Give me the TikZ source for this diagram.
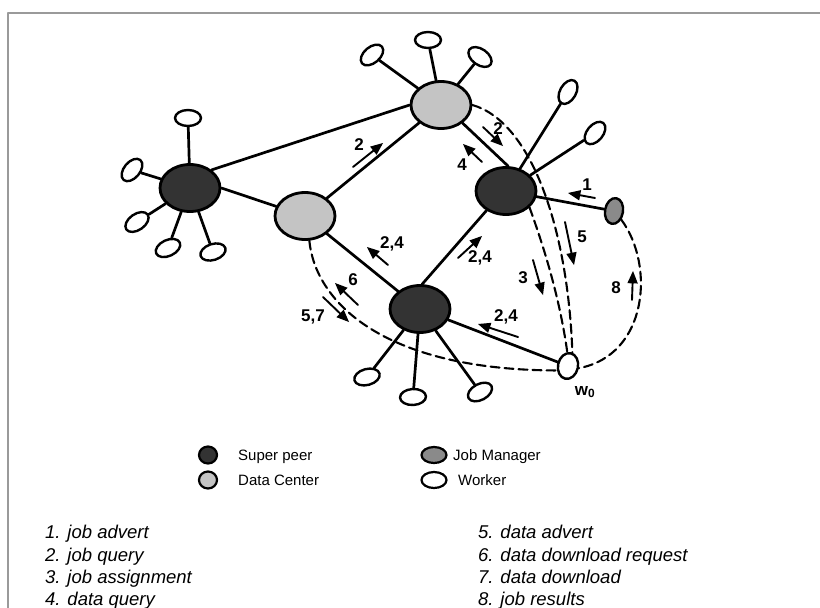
\documentclass[tikz,border=0pt]{standalone}
\usepackage{fontspec}
\setmainfont{Liberation Sans}
\usetikzlibrary{arrows,shapes.geometric}
\definecolor{spfill}{HTML}{333333}
\definecolor{dcfill}{HTML}{C4C4C4}
\definecolor{jmfill}{HTML}{8A8A8A}
\definecolor{framegray}{HTML}{9A9A9A}
\tikzset{
  hub/.style={ellipse,draw,line width=2.8pt,minimum width=60pt,minimum height=47pt,inner sep=0pt},
  superpeer/.style={hub,fill=spfill},
  datacenter/.style={hub,fill=dcfill},
  worker/.style={ellipse,draw,line width=2.4pt,fill=white,minimum width=26pt,minimum height=16pt,inner sep=0pt},
  jobmgr/.style={ellipse,draw,line width=2.4pt,fill=jmfill,minimum width=18pt,minimum height=26pt,inner sep=0pt},
  link/.style={line width=2.7pt},
  dlink/.style={line width=2.1pt,dash pattern=on 9pt off 5pt},
  msg/.style={->,line width=1.9pt},
  lbl/.style={font=\fontsize{17}{17}\selectfont\bfseries,inner sep=0pt},
  key/.style={ellipse,draw,line width=2.2pt,minimum width=18pt,minimum height=17pt,inner sep=0pt},
  keytext/.style={anchor=base west,font=\fontsize{15}{15}\selectfont,inner sep=0pt},
  item/.style={anchor=base west,font=\fontsize{18.5}{18.5}\selectfont\itshape,inner sep=0pt}
}
\begin{document}
\begin{tikzpicture}[line cap=round,line join=round,>=triangle 45,x=1pt,y=-1pt]
\useasboundingbox (0,0) rectangle (820,608);
\begin{scope}
\clip (0,0) rectangle (820,608);
\draw[framegray,line width=1.8pt] (8,640) -- (8,13) -- (840,13);
\end{scope}
% peers and data centers
\node[superpeer] (sp1) at (190,188) {};
\node[superpeer] (sp2) at (506,191) {};
\node[superpeer] (sp3) at (420,309) {};
\node[datacenter] (dc1) at (305,216) {};
\node[datacenter] (dc2) at (441,105) {};
\node[jobmgr,rotate=-10] (jm) at (614,211) {};
\node[worker,minimum width=20pt,minimum height=26pt,rotate=-12] (w0) at (568,366) {};
\node[lbl] (w0lbl) at (585,392) {w\textsubscript{0}};
% workers
\foreach \n/\x/\y/\r/\h in {a1/188/118/0/sp1, a2/132/170/50/sp1, a3/137/222/35/sp1,
    a4/168/248/25/sp1, a5/213/252/18/sp1, b1/372/55/40/dc2, b2/428/40/0/dc2,
    b3/480/57/-35/dc2, c1/568/92/60/sp2, c2/595/133/50/sp2, d1/367/377/15/sp3,
    d2/413/397/3/sp3, d3/480/392/28/sp3}
  {\node[worker,rotate=\r] (\n) at (\x,\y) {};
   \draw[link] (\h) -- (\n);}
% overlay links
\draw[link] (sp1.40) -- (dc2.180);
\draw[link] (sp1.east) -- (dc1);
\draw[link] (dc1) -- (dc2);
\draw[link] (dc2.-40) -- (sp2.85);
\draw[link] (dc1) -- (sp3);
\draw[link] (sp3.85) -- (sp2.-135);
\draw[link] (sp2) -- (jm);
\draw[link] (sp3) -- (w0);
% dashed message paths
\draw[dlink] (dc2.east) .. controls (532,122) and (568,230) .. (w0.84);
\draw[dlink] (sp2.-35) .. controls (545,250) and (560,300) .. (w0.105);
\draw[dlink] (jm.-40) .. controls (655,265) and (648,355) .. (w0.1);
\draw[dlink] (dc1.-80) .. controls (315,300) and (380,370) .. (w0.214);
% messages
\foreach \xa/\ya/\xb/\yb in {595/198/568/193, 353/167/383/143, 388/265/367/247,
    483/127/503/146, 482/162/463/144, 565/222/574/265, 533/260/543/295,
    632/300/633/271, 458/258/482/236, 518/337/478/324, 358/305/335/283,
    323/297/349/322}
  \draw[msg] (\xa,\ya) -- (\xb,\yb);
\node[lbl] (m1) at (587,185) {1};
\node[lbl] (m2a) at (359,145) {2};
\node[lbl] (m24a) at (392,244) {2,4};
\node[lbl] (m2b) at (498,129) {2};
\node[lbl] (m4) at (462,165) {4};
\node[lbl] (m5) at (582,237) {5};
\node[lbl] (m3) at (523,278) {3};
\node[lbl] (m8) at (616,288) {8};
\node[lbl] (m24b) at (480,258) {2,4};
\node[lbl] (m24c) at (506,317) {2,4};
\node[lbl] (m6) at (353,280) {6};
\node[lbl] (m57) at (313,317) {5,7};
% legend
\node[key,fill=spfill] (k1) at (208,455) {};
\node[keytext] (t1) at (238,460) {Super peer};
\node[key,fill=dcfill] (k2) at (208,480) {};
\node[keytext] (t2) at (238,485) {Data Center};
\node[key,fill=jmfill,minimum width=25pt,minimum height=16pt] (k3) at (434,455) {};
\node[keytext] (t3) at (453,460) {Job Manager};
\node[key,fill=white,minimum width=25pt,minimum height=16pt] (k4) at (434,480) {};
\node[keytext] (t4) at (458,485) {Worker};
\node[item] (i1) at (45,538) {1. job advert};
\node[item] (i2) at (45,561) {2. job query};
\node[item] (i3) at (45,583) {3. job assignment};
\node[item] (i4) at (45,605) {4. data query};
\node[item] (i5) at (478,538) {5. data advert};
\node[item] (i6) at (478,561) {6. data download request};
\node[item] (i7) at (478,583) {7. data download};
\node[item] (i8) at (478,605) {8. job results};
\end{tikzpicture}
\end{document}
